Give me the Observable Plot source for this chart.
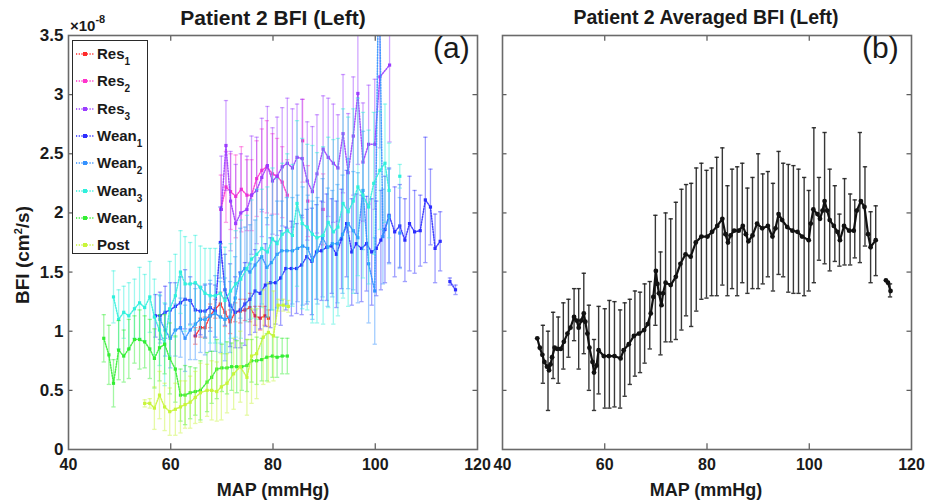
<!DOCTYPE html>
<html><head><meta charset="utf-8">
<script src="https://cdn.jsdelivr.net/npm/d3@7"></script>
<script src="https://cdn.jsdelivr.net/npm/@observablehq/plot@0.6"></script>
<style>
html,body{margin:0;padding:0;background:#fff;}
#wrap{position:relative;width:927px;height:504px;overflow:hidden;font-family:"Liberation Sans",Arial,sans-serif;color:#1a1a1a;}
#wrap svg.plot{position:absolute;top:0;}
.t{position:absolute;font-weight:bold;white-space:nowrap;line-height:1;}
</style></head><body><div id="wrap"></div>
<script>
// ---------- tick labels ----------
const xTicks = [40, 60, 80, 100, 120];
const yTicks = [0, 0.5, 1, 1.5, 2, 2.5, 3, 3.5];

// ---------- Panel (a): BFI (x1e-8) vs MAP for each stage ----------
const res1X = [64.8,65.8,66.7,67.7,68.7,69.7,70.6,71.6,72.6,73.6,74.5,75.5,76.5,77.5,78.4,79.1];
const res1Y = [0.96,1.03,1.03,1.13,1.19,1.23,1.16,1.08,1.16,1.17,1.18,1.20,1.13,1.11,1.13,1.11];
const res1E = [0.07,0.08,0.09,0.1,0.08,0.1,0.12,0.1,0.08,0.1,0.09,0.12,0.08,0.1,0.08,0.07];

const res2X = [69.8,70.8,71.7,72.7,73.8,74.9,75.8,76.8,77.8,78.8,79.9,80.8,81.8,82.8,84.3,85.8,86.3,86.8,88.3,89.8];
const res2Y = [2.03,2.22,2.18,2.14,2.20,2.15,2.15,2.29,2.36,2.39,2.33,2.31,2.26,2.15,null,2.61,null,2.10,null,2.03];
const res2E = [0.29,0.3,0.32,0.35,0.36,0.3,0.3,0.32,0.35,0.39,0.34,0.32,0.3,0.3,null,0.35,null,0.3,null,0.3];

const res3X = [69.9,70.8,71.7,72.7,73.7,74.9,75.8,76.8,77.8,78.9,79.9,80.8,81.8,82.8,83.8,84.7,85.7,86.7,87.7,88.6,89.8,90.8,91.8,92.7,93.7,94.7,95.7,96.6,97.6,98.7,99.9,100.9,102.8];
const res3Y = [2.03,2.57,2.10,1.91,2.00,2.03,2.15,2.19,2.30,2.40,2.27,2.31,2.39,2.42,2.38,2.47,2.46,2.27,2.18,2.33,2.54,2.47,2.42,2.38,2.67,2.34,2.65,3.01,2.43,2.58,2.58,3.15,3.25];
const res3E = [0.45,0.38,0.42,0.5,0.5,0.45,0.5,0.45,0.5,0.5,0.45,0.5,0.5,0.55,0.5,0.45,0.5,0.5,0.55,0.5,0.45,0.5,0.5,0.45,0.5,0.5,0.5,0.6,0.5,0.5,0.55,0.6,0.65];

const wean1X = [57.0,57.9,58.9,59.9,60.9,61.9,62.8,63.8,64.8,65.8,66.7,67.7,68.7,69.7,70.6,71.6,72.6,73.6,74.5,75.5,76.5,77.5,78.5,79.5,80.5,81.5,82.5,83.6,84.6,85.6,86.6,87.6,88.5,89.5,90.5,91.5,92.4,93.4,94.4,95.4,96.3,97.3,98.3,99.3,100.2,101.1,101.9,102.7,103.8,104.8,105.8,106.7,107.7,108.8,109.8,110.8,111.7,112.7,113.6,114.6,115.7];
const wean1Y = [1.13,1.13,1.16,1.18,1.21,1.24,1.27,1.26,1.18,1.17,1.17,1.20,1.17,1.75,1.35,1.22,1.16,1.18,1.23,1.27,1.34,1.32,1.39,1.41,1.41,1.45,1.53,1.53,1.53,1.56,1.63,1.59,1.67,1.68,1.71,1.72,1.65,1.78,1.91,1.67,1.74,1.70,1.74,1.67,1.70,1.77,1.86,1.98,1.84,1.89,1.77,1.91,1.84,1.85,2.11,2.05,1.70,1.76,null,1.42,1.35];
const wean1E = [0.18,0.2,0.22,0.23,0.2,0.22,0.25,0.2,0.22,0.2,0.22,0.2,0.22,0.3,0.3,0.35,0.3,0.32,0.35,0.3,0.35,0.3,0.35,0.38,0.35,0.4,0.35,0.4,0.38,0.42,0.4,0.45,0.4,0.42,0.45,0.4,0.45,0.42,0.45,0.45,0.42,0.45,0.4,0.45,0.4,0.42,0.45,0.4,0.38,0.35,0.35,0.4,0.35,0.3,0.53,0.32,0.29,0.25,null,0.03,0.04];

const wean2X = [57.9,58.9,59.9,60.9,61.9,62.8,63.8,64.8,65.8,66.7,67.7,68.7,69.7,70.6,71.6,72.6,73.6,74.5,75.5,76.5,77.8,78.8,79.7,80.8,81.7,82.7,83.8,84.8,85.8,86.8,87.7,88.7,89.7,90.7,91.6,92.6,93.6,94.7,95.7,96.6,97.6,98.7,99.9,100.7,101.5,102.7,103.7,104.8];
const wean2Y = [1.10,1.01,0.94,1.01,1.03,0.94,1.01,1.06,1.10,1.10,1.13,1.15,1.12,1.10,1.12,1.28,1.49,1.53,1.50,1.56,1.63,1.54,1.58,1.65,1.68,1.68,1.68,1.70,1.72,1.70,1.60,1.68,1.79,1.71,1.74,1.74,1.82,1.91,1.85,1.79,2.19,1.57,1.34,4.2,1.80,1.97,null,1.83];
const wean2E = [0.2,0.22,0.25,0.22,0.25,0.28,0.25,0.3,0.28,0.3,0.3,0.32,0.3,0.35,0.3,0.35,0.38,0.35,0.4,0.38,0.4,0.42,0.4,0.45,0.42,0.45,0.45,0.45,0.5,0.45,0.5,0.45,0.5,0.5,0.45,0.5,0.5,0.55,0.5,0.55,0.5,0.5,0.45,0.5,0.4,0.4,null,0.3];

const wean3X = [48.8,49.8,50.8,51.8,52.9,53.9,54.9,55.9,56.8,57.8,58.8,59.8,60.9,61.9,62.8,63.8,64.8,65.8,66.7,67.7,68.7,69.7,70.6,71.7,72.7,73.7,74.9,75.8,76.8,77.8,78.9,79.9,80.8,81.8,82.8,83.8,84.7,85.7,86.7,87.7,88.6,89.8,90.8,91.8,92.7,93.7,94.7,95.7,96.6,97.6,98.7,99.7,100.9,101.9,102.7,103.8,104.8];
const wean3Y = [1.29,1.10,1.16,1.13,1.19,1.24,1.20,1.29,1.12,1.01,0.89,1.19,1.30,1.50,1.40,1.40,1.41,1.37,1.32,1.30,1.30,1.32,1.26,1.34,1.40,1.44,1.53,1.61,1.65,1.70,1.67,1.78,1.74,1.82,1.85,1.81,2.08,1.91,1.88,1.82,1.79,1.81,1.92,1.84,1.88,2.08,2.01,2.10,2.22,2.15,2.05,2.25,2.36,2.42,2.19,null,2.31];
const wean3E = [0.22,0.25,0.22,0.28,0.25,0.3,0.28,0.3,0.32,0.3,0.35,0.4,0.35,0.35,0.4,0.35,0.4,0.35,0.38,0.4,0.4,0.42,0.45,0.4,0.45,0.5,0.45,0.5,0.55,0.5,0.55,0.6,0.55,0.6,0.65,0.6,0.7,0.72,0.7,0.75,0.72,0.75,0.72,0.78,0.75,0.8,0.8,0.78,0.75,0.7,0.65,0.6,0.5,0.5,0.4,null,0.1];

const wean4X = [46.9,47.9,48.8,49.8,50.8,51.8,52.9,53.9,54.9,55.9,56.8,57.8,58.8,59.8,60.9,61.9,62.8,63.8,64.8,65.8,67.1,68.0,69.0,70.0,71.0,71.9,72.9,73.9,74.9,75.8,76.8,77.8,78.8,79.9,80.8,81.8,82.8];
const wean4Y = [0.94,0.80,0.56,0.84,0.79,0.85,0.93,0.93,0.91,0.85,0.77,0.86,0.89,0.77,0.68,0.46,0.46,0.48,0.49,0.50,0.57,0.61,0.68,0.69,0.69,0.70,0.70,0.70,0.71,0.75,0.75,0.76,0.78,0.79,0.78,0.79,0.79];
const wean4E = [0.2,0.25,0.2,0.25,0.22,0.25,0.2,0.25,0.22,0.25,0.25,0.28,0.25,0.3,0.28,0.22,0.25,0.22,0.2,0.25,0.25,0.22,0.25,0.2,0.22,0.2,0.22,0.2,0.22,0.18,0.2,0.18,0.2,0.18,0.17,0.15,0.15];

const postX = [54.9,55.9,56.8,57.8,58.8,59.8,60.9,61.9,62.8,63.8,64.8,65.8,67.1,68.0,69.0,69.9,71.0,72.3,73.6,74.9,75.8,76.8,78.1,79.1,80.1,81.0,82.0,83.0];
const postY = [0.39,0.39,0.35,0.46,0.36,0.32,0.34,0.36,0.38,0.40,0.44,0.48,0.50,0.50,0.49,0.53,0.56,0.64,0.70,0.61,0.79,0.81,0.95,0.99,0.96,1.22,1.22,1.21];
const postE = [0.03,0.04,0.18,0.2,0.2,0.2,0.22,0.22,0.2,0.22,0.22,0.25,0.22,0.25,0.25,0.28,0.25,0.3,0.3,0.32,0.4,0.38,0.4,0.42,0.38,0.05,0.05,0.05];

const stageNames = ["Res","Res","Res","Wean","Wean","Wean","Wean","Post"];
const stageSubs  = ["1","2","3","1","2","3","4",""];
const stageColors = ["#ff2a2a","#ff33cc","#9b3cff","#2d2dff","#3391ff","#2ff0dc","#33ee33","#c8f53a"];

// ---------- Panel (b): averaged BFI ----------
const avgX = [46.8,47.3,47.8,48.2,48.7,49.1,49.4,49.7,50.2,50.7,51.4,52.0,52.7,53.3,54.0,54.5,54.9,55.4,55.9,56.2,56.6,57.0,57.6,57.9,58.4,58.8,59.8,60.8,61.9,63.1,63.7,64.7,65.7,66.7,67.7,68.4,69.0,69.5,70.0,70.3,70.6,71.1,71.4,71.9,72.9,73.9,74.8,75.8,76.8,77.8,78.9,80.1,81.0,82.0,83.0,83.6,84.1,84.6,85.3,86.2,87.0,87.6,88.1,88.9,89.8,90.8,91.9,92.8,93.4,94.0,94.7,95.7,96.7,97.7,98.6,99.9,100.3,100.8,101.6,102.1,102.6,103.0,103.5,104.0,104.8,105.5,106.0,106.8,107.8,108.7,109.3,110.1,110.8,111.5,112.0,113.0,114.0,115.0,115.4,115.9];
const avgY = [0.94,0.86,0.80,0.74,0.70,0.67,0.72,0.78,0.86,0.85,0.85,0.91,0.98,1.03,1.12,1.09,1.03,1.09,1.15,1.08,0.98,0.86,0.74,0.65,0.71,0.84,0.79,0.79,0.79,0.77,0.84,0.89,0.96,0.98,1.01,1.06,1.15,1.29,1.51,1.40,1.32,1.22,1.32,1.41,1.39,1.46,1.57,1.65,1.63,1.75,1.80,1.80,1.84,1.89,1.95,1.82,1.75,1.81,1.85,1.85,1.89,1.82,1.76,1.81,1.91,1.87,1.89,1.80,1.87,1.99,1.94,1.88,1.85,1.84,1.80,1.77,1.91,2.03,1.99,1.95,2.02,2.10,2.02,1.94,1.89,1.84,1.77,1.89,1.85,1.85,2.02,2.10,2.05,1.82,1.71,1.77,null,1.43,1.41,1.34];
const avgBarX  = [47.9,48.9,49.9,50.9,51.9,52.9,54.0,54.9,55.9,56.9,57.9,58.8,60.0,60.9,61.9,63.0,63.9,64.9,65.9,66.9,67.8,68.8,69.9,70.9,71.9,72.9,73.9,75.0,75.9,76.9,77.9,78.9,79.9,80.9,81.9,83.0,84.0,84.9,85.9,86.9,87.9,88.9,90.0,90.9,91.9,92.9,94.0,94.9,95.9,96.9,97.9,99.0,99.9,100.9,101.9,103.0,104.0,105.0,105.9,106.9,108.0,108.9,109.9,110.9,112.0,113.0,115.8];
const avgBarLo = [0.56,0.33,0.60,0.56,0.68,0.78,0.92,0.68,0.81,0.50,0.33,0.47,0.35,0.35,0.36,0.35,0.45,0.55,0.62,0.65,0.73,0.85,1.05,0.80,0.91,0.91,0.93,1.01,1.13,1.04,1.17,1.27,1.28,1.30,1.30,1.39,1.30,1.36,1.30,1.41,1.32,1.36,1.36,1.40,1.46,1.34,1.48,1.46,1.33,1.32,1.32,1.30,1.34,1.41,1.60,1.57,1.51,1.59,1.55,1.56,1.56,1.62,1.58,1.72,1.41,1.47,1.29];
const avgBarHi = [1.05,1.00,1.16,1.12,1.24,1.27,1.36,1.36,1.49,1.22,0.93,1.21,1.19,1.26,1.25,1.18,1.24,1.27,1.34,1.33,1.40,1.42,1.98,1.67,2.00,1.95,2.09,2.20,2.24,2.25,2.38,2.42,2.36,2.38,2.47,2.55,2.23,2.37,2.39,2.42,2.21,2.30,2.50,2.33,2.35,2.25,2.52,2.42,2.41,2.40,2.37,2.30,2.19,2.72,2.30,2.68,2.37,2.23,1.99,2.29,2.16,2.11,2.68,2.39,2.01,2.06,1.40];

// ---------- helpers ----------
const FONT = '"Liberation Sans", Arial, sans-serif';
const CAP = 0.42;

function errMarks(rows, lo, hi, stroke, opacity, width) {
  return [
    Plot.ruleX(rows, {x: "x", y1: lo, y2: hi, stroke, strokeOpacity: opacity, strokeWidth: width, clip: true}),
    Plot.link(rows, {x1: r => r.x - CAP, x2: r => r.x + CAP, y1: hi, y2: hi, stroke, strokeOpacity: opacity, strokeWidth: width, clip: true}),
    Plot.link(rows, {x1: r => r.x - CAP, x2: r => r.x + CAP, y1: lo, y2: lo, stroke, strokeOpacity: opacity, strokeWidth: width, clip: true})
  ];
}

function stageMarks(X, Y, E, color) {
  const d = X.map((x, i) => ({x, y: Y[i], e: E[i]}));
  const v = d.filter(r => r.y != null);
  const ve = v.filter(r => r.e != null && r.e > 0);
  return [
    ...errMarks(ve, r => r.y - r.e, r => r.y + r.e, color, 0.45, 1.3),
    Plot.line(d, {x: "x", y: "y", stroke: color, strokeWidth: 1.5, strokeOpacity: 0.9, strokeDasharray: "1.2,1.5", clip: true}),
    Plot.dot(v, {x: "x", y: "y", symbol: "square", r: 1.8, fill: color, clip: true})
  ];
}

function frameTicks(xt, yt, x0, x1, y0, y1) {
  const dy = (y1 - y0) * 0.014, dx = (x1 - x0) * 0.011;
  const xi = xt.filter(t => t > x0 && t < x1);
  const yi = yt.filter(t => t > y0 && t < y1);
  const s = {stroke: "#555", strokeWidth: 1.2};
  return [
    Plot.ruleX(xi, {x: d => d, y1: y0, y2: y0 + dy, ...s}),
    Plot.ruleX(xi, {x: d => d, y1: y1, y2: y1 - dy, ...s}),
    Plot.ruleY(yi, {y: d => d, x1: x0, x2: x0 + dx, ...s}),
    Plot.ruleY(yi, {y: d => d, x1: x1, x2: x1 - dx, ...s})
  ];
}

const baseStyle = {fontFamily: FONT, fontSize: "16px", fontWeight: "bold", color: "#1a1a1a", background: "transparent", overflow: "visible"};

const allStages = [
  [res1X, res1Y, res1E], [res2X, res2Y, res2E], [res3X, res3Y, res3E],
  [wean1X, wean1Y, wean1E], [wean2X, wean2Y, wean2E], [wean3X, wean3Y, wean3E],
  [wean4X, wean4Y, wean4E], [postX, postY, postE]
];

const left = Plot.plot({
  width: 480, height: 504,
  marginLeft: 68, marginRight: 3, marginTop: 35, marginBottom: 55,
  x: {domain: [40, 120]},
  y: {domain: [0, 3.5]},
  style: baseStyle,
  marks: [
    ...allStages.flatMap((s, i) => stageMarks(s[0], s[1], s[2], stageColors[i])),
    ...frameTicks(xTicks, yTicks, 40, 120, 0, 3.5),
    Plot.frame({stroke: "#6a6a6a", strokeWidth: 1.6}),
    Plot.axisX(xTicks, {tickSize: 0, tickPadding: 9, label: null, tickFormat: d => String(d)}),
    Plot.axisY(yTicks, {tickSize: 0, tickPadding: 5, label: null, fontSize: 17, tickFormat: d => String(d)})
  ]
});
left.setAttribute("class", "plot");
left.style.left = "0px";

const avgRows = avgX.map((x, i) => ({x, y: avgY[i]}));
const avgBars = avgBarX.map((x, i) => ({x, lo: avgBarLo[i], hi: avgBarHi[i]}));

const right = Plot.plot({
  width: 447, height: 504,
  marginLeft: 22, marginRight: 16, marginTop: 35, marginBottom: 55,
  x: {domain: [40, 120]},
  y: {domain: [0, 3.5], axis: null},
  style: baseStyle,
  marks: [
    ...errMarks(avgBars, "lo", "hi", "#222", 0.9, 1.4),
    Plot.line(avgRows, {x: "x", y: "y", stroke: "#111", strokeWidth: 2.2, clip: true}),
    Plot.dot(avgRows.filter(r => r.y != null), {x: "x", y: "y", r: 2.4, fill: "#111", clip: true}),
    ...frameTicks(xTicks, yTicks, 40, 120, 0, 3.5),
    Plot.frame({stroke: "#6a6a6a", strokeWidth: 1.6}),
    Plot.axisX(xTicks, {tickSize: 0, tickPadding: 9, label: null, tickFormat: d => String(d)})
  ]
});
right.setAttribute("class", "plot");
right.style.left = "480px";

const wrap = document.getElementById("wrap");
wrap.appendChild(left);
wrap.appendChild(right);

function addText(html, css) {
  const el = document.createElement("div");
  el.className = "t";
  el.innerHTML = html;
  el.style.cssText += css;
  wrap.appendChild(el);
  return el;
}

// titles
addText("Patient 2 BFI (Left)", "left:73px;width:400px;text-align:center;top:7px;font-size:21px;");
addText("Patient 2 Averaged BFI (Left)", "left:506px;width:400px;text-align:center;top:8px;font-size:19.5px;");
// exponent
addText('&times;10<span style="font-size:11px;position:relative;top:-8px;">-8</span>', "left:70px;top:18px;font-size:15px;");
// panel letters
addText("(a)", "left:433px;top:33px;font-size:30px;font-weight:normal;");
addText("(b)", "left:862px;top:33px;font-size:30px;font-weight:normal;");
// axis labels
addText("MAP (mmHg)", "left:73px;width:400px;text-align:center;top:481px;font-size:18px;");
addText("MAP (mmHg)", "left:506px;width:400px;text-align:center;top:481px;font-size:18px;");
addText('BFI (cm<span style="font-size:11px;position:relative;top:-7px;">2</span>/s)', "left:22px;top:255px;font-size:19px;transform:translate(-50%,-50%) rotate(-90deg);");

// legend
const leg = document.createElement("div");
leg.style.cssText = "position:absolute;left:72px;top:40px;width:74px;height:212px;border:1.5px solid #2a2a2a;background:#fff;";
stageNames.forEach((nm, i) => {
  const row = document.createElement("div");
  const cy = 13 + i * 27.3;
  row.style.cssText = `position:absolute;left:2px;top:${cy - 10}px;height:20px;width:72px;`;
  const c = stageColors[i];
  row.innerHTML = `<svg width="20" height="20" style="position:absolute;left:0;top:0"><line x1="1" x2="19" y1="10" y2="10" stroke="${c}" stroke-width="1.5" stroke-dasharray="1.2,1.5"/><rect x="8" y="8" width="4" height="4" fill="${c}"/></svg>` +
    `<div class="t" style="left:22px;top:2px;font-size:15px;">${nm}${stageSubs[i] ? `<span style="font-size:10px;position:relative;top:6px;">${stageSubs[i]}</span>` : ""}</div>`;
  leg.appendChild(row);
});
wrap.appendChild(leg);
</script></body></html>
